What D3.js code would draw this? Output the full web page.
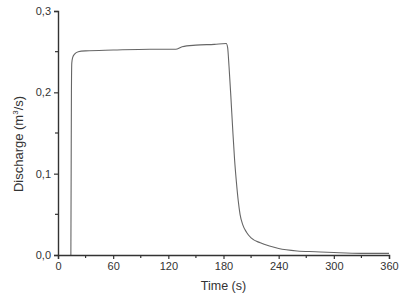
<!DOCTYPE html>
<html>
<head>
<meta charset="utf-8">
<script src="https://cdn.jsdelivr.net/npm/d3@7"></script>
<style>
  body { margin: 0; background: #fff; }
  svg { display: block; font-family: "Liberation Sans", Arial, sans-serif; }
</style>
</head>
<body>
<div id="chart"></div>
<script>
const widthValue = 409;
const heightValue = 298;
const pad = { left: 58, right: 20, top: 11, bottom: 43 };

const time = [14, 14.3, 14.6, 15, 16, 18, 22, 30, 60, 100, 128, 135, 150, 170, 183,
  184.5, 186, 188, 190, 192, 194, 196, 198, 201, 205, 210, 220, 230, 240, 260, 280, 300, 330, 360];
const discharge = [0, 0.1, 0.2, 0.236, 0.243, 0.247, 0.25, 0.251, 0.252, 0.253, 0.253, 0.256, 0.258, 0.259, 0.26,
  0.255, 0.232, 0.195, 0.155, 0.118, 0.09, 0.067, 0.05, 0.037, 0.028, 0.021, 0.015, 0.011, 0.008, 0.005, 0.004, 0.003, 0.002, 0.002];

const xTicks = [0, 60, 120, 180, 240, 300, 360];
const xMinor = [30, 90, 150, 210, 270, 330];
const yTicks = [0, 0.1, 0.2, 0.3];
const yMinor = [0.05, 0.15, 0.25];

const data = time.map((t, i) => ({ t: t, q: discharge[i] }));

const svg = d3.select("#chart").append("svg")
  .attr("width", widthValue)
  .attr("height", heightValue);

const xScale = d3.scaleLinear().domain([0, 360]).range([pad.left, widthValue - pad.right]);
const yScale = d3.scaleLinear().domain([0, 0.3]).range([heightValue - pad.bottom, pad.top]);

const fmt = (d) => d3.format(".1f")(d).replace(".", ",");

// curve
svg.append("path")
  .datum(data)
  .attr("fill", "none")
  .attr("stroke", "#666")
  .attr("stroke-width", 1.1)
  .attr("d", d3.line().curve(d3.curveMonotoneX).x((d) => xScale(d.t)).y((d) => yScale(d.q)));

// x axis
const xAxis = svg.append("g")
  .attr("transform", "translate(0," + yScale(0) + ")")
  .call(d3.axisBottom(xScale).tickValues(xTicks).tickSize(4).tickPadding(3).tickFormat((d) => d));
xAxis.append("g").selectAll("line").data(xMinor).join("line")
  .attr("x1", (d) => xScale(d)).attr("x2", (d) => xScale(d))
  .attr("y1", 0).attr("y2", 3);

// y axis
const yAxis = svg.append("g")
  .attr("transform", "translate(" + xScale(0) + ",0)")
  .call(d3.axisLeft(yScale).tickValues(yTicks).tickSize(4).tickPadding(3).tickFormat(fmt));
yAxis.append("g").selectAll("line").data(yMinor).join("line")
  .attr("y1", (d) => yScale(d)).attr("y2", (d) => yScale(d))
  .attr("x1", 0).attr("x2", -3);

svg.selectAll(".domain").attr("stroke", "#333").attr("stroke-width", 1.4);
svg.selectAll(".tick line").attr("stroke", "#333").attr("stroke-width", 1.2);
xAxis.selectAll("g > line").attr("stroke", "#333").attr("stroke-width", 1.2);
yAxis.selectAll("g > line").attr("stroke", "#333").attr("stroke-width", 1.2);
svg.selectAll(".tick text").attr("fill", "#333").style("font-size", "11px");

// axis titles
svg.append("text")
  .attr("x", (xScale(0) + xScale(360)) / 2)
  .attr("y", 290)
  .attr("text-anchor", "middle")
  .attr("fill", "#333")
  .style("font-size", "12.5px")
  .text("Time (s)");

const yt = svg.append("text")
  .attr("transform", "translate(23,144) rotate(-90)")
  .attr("text-anchor", "middle")
  .attr("fill", "#333")
  .style("font-size", "13px");
yt.append("tspan").text("Discharge (m");
yt.append("tspan").attr("dy", -5).style("font-size", "8px").text("3");
yt.append("tspan").attr("dy", 5).text("/s)");
</script>
</body>
</html>
